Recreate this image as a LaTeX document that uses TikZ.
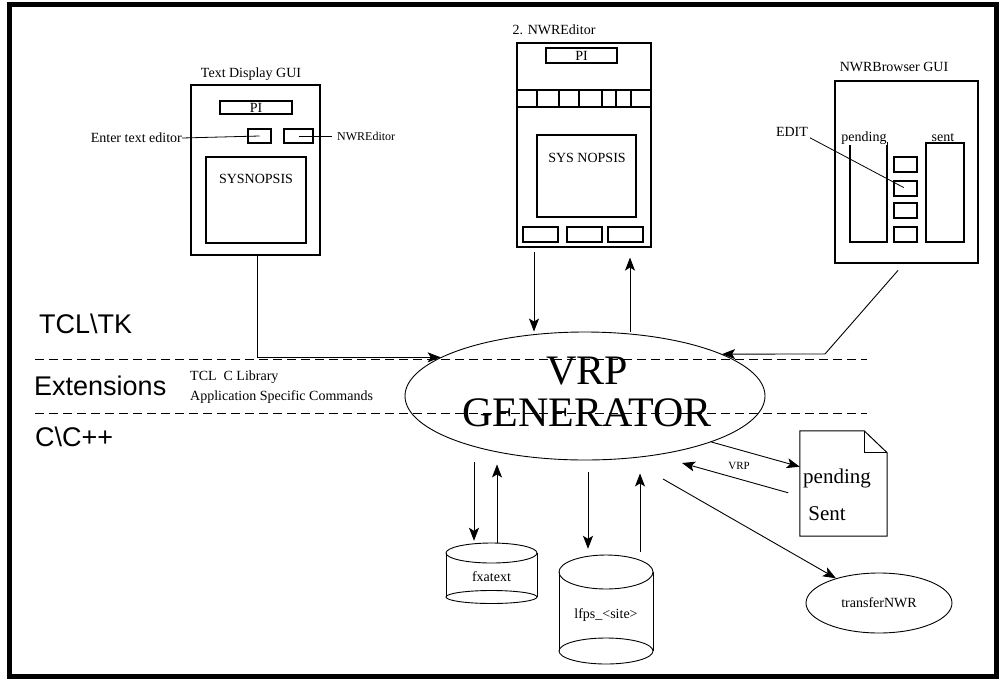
\documentclass[tikz,border=0pt]{standalone}
\usepackage{fontspec}
\setmainfont{Liberation Serif}
\setsansfont{Liberation Sans}
\usetikzlibrary{shapes.geometric,arrows.meta}
\tikzset{
  box/.style={draw, line width=1.1pt, inner sep=0pt, minimum width=#1},
  lbl/.style={font=\fontsize{14}{16}\selectfont, inner sep=0pt},
  lyr/.style={font=\sffamily\fontsize{27}{29}\selectfont, inner sep=0pt, anchor=west},
  arr/.style={line width=0.9pt, -{Stealth[length=13pt,width=10pt,inset=3pt]}},
  lead/.style={line width=0.8pt},
  sep/.style={line width=0.9pt, dash pattern=on 9pt off 5pt},
}
\begin{document}
\begin{tikzpicture}[x=1pt,y=-1pt]
\useasboundingbox (0,0) rectangle (999,678);
\draw[line width=4.5pt] (9.5,4.25) rectangle (996.5,676.5);

% ---------- Text Display GUI ----------
\node[lbl] (tdgt) at (251,74) {Text Display GUI};
\node[box=129pt, minimum height=170pt] (tdg) at (255.5,170) {};
\node[box=72pt, minimum height=13pt, lbl] (tdpi) at (256,107.5) {PI};
\node[box=23pt, minimum height=14pt] (b1) at (259.5,136) {};
\node[box=29pt, minimum height=14pt] (b2) at (298.5,136) {};
\node[box=100pt, minimum height=86pt] (tdsyn) at (256,200) {};
\node[lbl] (tdsynt) at (256,179) {SYSNOPSIS};
\node[lbl, anchor=east] (ete) at (182,138) {Enter text editor};
\node[lbl, anchor=west, font=\fontsize{12}{13}\selectfont] (nwrl) at (337,136) {NWREditor};
\draw[lead] (ete.east) -- (b1.center);
\draw[lead, shorten >=5pt] (b2.center) -- (nwrl.west);

% ---------- NWREditor ----------
\node[lbl] (nwet) at (554,30) {2. NWREditor};
\node[box=134pt, minimum height=204pt] (nwe) at (584,145) {};
\node[box=71pt, minimum height=15pt, lbl] (nwepi) at (581.5,55.5) {PI};
\node[box=134pt, minimum height=17pt] (tbar) at (584,98.5) {};
\foreach \xx in {537,559,579,602,616,631}
  \draw[line width=1.1pt] (\xx,0 |- tbar.north) -- (\xx,0 |- tbar.south);
\node[box=99pt, minimum height=82pt] (nwesyn) at (586.5,176) {};
\node[lbl] (nwesynt) at (587,158) {SYS NOPSIS};
\node[box=35pt, minimum height=15pt] (nb1) at (540.5,234.5) {};
\node[box=35pt, minimum height=15pt] (nb2) at (584.5,234.5) {};
\node[box=35pt, minimum height=15pt] (nb3) at (625.5,234.5) {};

% ---------- NWRBrowser GUI ----------
\node[lbl] (nwbt) at (894,67) {NWRBrowser GUI};
\node[box=143pt, minimum height=182pt] (nwb) at (906.5,172) {};
\node[box=37pt, minimum height=99pt] (pcol) at (868.5,192.5) {};
\node[box=38pt, minimum height=99pt] (scol) at (945,192.5) {};
\node[lbl, anchor=base, fill=white, inner sep=0.5pt] (pcolt) at (864,141.5) {pending};
\node[lbl, anchor=base, fill=white, inner sep=0.5pt] (scolt) at (943,141.5) {sent};
\node[box=23pt, minimum height=15pt] (sb1) at (905.5,164.5) {};
\node[box=23pt, minimum height=15pt] (sb2) at (905.5,188.5) {};
\node[box=23pt, minimum height=15pt] (sb3) at (905.5,210.5) {};
\node[box=23pt, minimum height=15pt] (sb4) at (905.5,234.5) {};
\node[lbl] (edit) at (792,132) {EDIT};
\draw[lead, shorten <=2pt, shorten >=2pt] (edit.south east) -- (sb2.center);

% ---------- layer labels ----------
\node[lyr] (ltcl) at (39,323.5) {TCL\textbackslash TK};
\node[lyr] (lext) at (34,386) {Extensions};
\node[lyr] (lcpp) at (35,437) {C\textbackslash C++};
\node[lbl, anchor=west] (lib) at (190,377) {TCL\ \ C Library};
\node[lbl, anchor=west] (asc) at (190,397) {Application Specific Commands};

% ---------- VRP generator ----------
\node[draw, ellipse, line width=0.9pt, minimum width=360pt, minimum height=128pt, inner sep=0pt] (gen) at (585,396) {};
\node[font=\fontsize{42}{42}\selectfont, align=center, inner sep=0pt] (gent) at (587,392) {VRP\\GENERATOR};

% separators
\draw[sep] (35,359) -- (867,359);
\draw[sep] (35,413) -- (867,413);

% ---------- data stores ----------
\node[lbl, minimum width=91pt, minimum height=68pt] (fx) at (491.5,577) {fxatext};
\draw[line width=0.9pt] (491.5,553) ellipse [x radius=45.5pt, y radius=10pt];
\draw[line width=0.9pt] (491.5,597) ellipse [x radius=45.5pt, y radius=6.5pt];
\draw[line width=0.9pt] (446,553) -- (446,597) (537,553) -- (537,597);

\node[lbl, minimum width=94pt, minimum height=120pt] (lf) at (606,615) {lfps\_<site>};
\draw[line width=0.9pt] (606,572) ellipse [x radius=47pt, y radius=17pt];
\draw[line width=0.9pt] (606,651) ellipse [x radius=47pt, y radius=13pt];
\draw[line width=0.9pt] (559,572) -- (559,651) (653,572) -- (653,651);

% ---------- pending/sent document ----------
\node[minimum width=87pt, minimum height=105pt, inner sep=0pt] (doc) at (843.5,483.5) {};
\draw[line width=1pt] (doc.north west) -- ([xshift=-23pt]doc.north east) -- ([yshift=-22pt]doc.north east) -- (doc.south east) -- (doc.south west) -- cycle;
\draw[line width=0.9pt] ([xshift=-23pt]doc.north east) -- ([xshift=-23pt,yshift=-22pt]doc.north east) -- ([yshift=-22pt]doc.north east);
\node[font=\fontsize{21}{23}\selectfont, inner sep=0pt] (dpend) at (837,478) {pending};
\node[font=\fontsize{21}{23}\selectfont, inner sep=0pt] (dsent) at (827,514) {Sent};

% ---------- transferNWR ----------
\node[draw, ellipse, line width=0.9pt, minimum width=146pt, minimum height=60pt, inner sep=0pt, lbl] (tnwr) at (879,603) {transferNWR};

% ---------- connectors ----------
\draw[arr] (tdg.south -| 257,0) |- (gen.165);
\draw[arr, shorten <=4pt] (nwe.south -| 534,0) -- (534,0 |- gen.north);
\draw[arr, shorten >=10pt] (630,0 |- gen.north) -- (nwe.south -| 630,0);
\coordinate (bend) at (825,354);
\draw[line width=0.9pt, shorten <=9pt] (nwb.south -| 904,0) -- (bend);
\draw[arr] (bend) -- (gen.17);

\draw[arr, shorten <=2pt, shorten >=2pt] (474,0 |- gen.south) -- (474,0 |- fx.north);
\draw[arr, shorten >=4pt] (497,0 |- fx.north) -- (497,0 |- gen.south);
\draw[arr, shorten <=12pt, shorten >=6pt] (588,0 |- gen.south) -- (588,0 |- lf.north);
\draw[arr, shorten <=3pt, shorten >=13pt] (640,0 |- lf.north) -- (640,0 |- gen.south);

\draw[arr] (gen.340) -- (doc.159);
\coordinate (vrpin) at (682,463);
\draw[arr, shorten <=12pt] (doc.196) -- (vrpin);
\node[font=\fontsize{11}{12}\selectfont, inner sep=0pt] (vrpl) at (739,466) {VRP};
\coordinate (t0) at (663,479);
\draw[arr] (t0) -- (tnwr);
\end{tikzpicture}
\end{document}
